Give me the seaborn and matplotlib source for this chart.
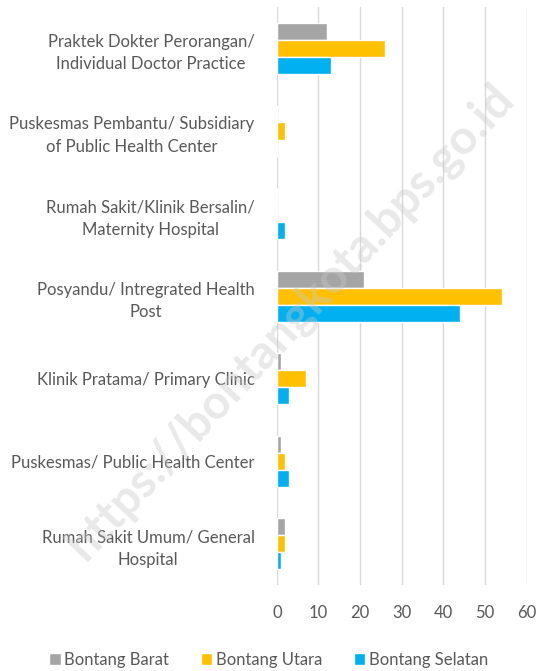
import matplotlib
matplotlib.use("Agg")
import matplotlib.pyplot as plt
import seaborn as sns
import pandas as pd

categories = [
    "Praktek Dokter Perorangan/\nIndividual Doctor Practice",
    "Puskesmas Pembantu/ Subsidiary\nof Public Health Center",
    "Rumah Sakit/Klinik Bersalin/\nMaternity Hospital",
    "Posyandu/ Intregrated Health\nPost",
    "Klinik Pratama/ Primary Clinic",
    "Puskesmas/ Public Health Center",
    "Rumah Sakit Umum/ General\nHospital",
]
series_names = ["Bontang Barat", "Bontang Utara", "Bontang Selatan"]
bontang_barat = [12, 0, 0, 21, 1, 1, 2]
bontang_utara = [26, 2, 0, 54, 7, 2, 2]
bontang_selatan = [13, 0, 2, 44, 3, 3, 1]
colors = ["#A5A5A5", "#FFC000", "#00B0F0"]
x_ticks = [0, 10, 20, 30, 40, 50, 60]

rows = []
for name, vals in zip(series_names, [bontang_barat, bontang_utara, bontang_selatan]):
    for c, v in zip(categories, vals):
        rows.append({"Kategori": c, "Nilai": v, "Wilayah": name})
df = pd.DataFrame(rows)

sns.set_theme(style="white")
plt.rcParams["font.family"] = ["Lato", "DejaVu Sans"]

fig = plt.figure(figsize=(5.37, 6.71), dpi=100)
ax = fig.add_axes([0.5155, 0.128, 0.4655, 0.8614])

sns.barplot(data=df, y="Kategori", x="Nilai", hue="Wilayah", order=categories,
            hue_order=series_names, palette=colors, orient="h", width=0.62,
            saturation=1, ax=ax, legend=True)

ax.set_xlim(0, 60)
ax.set_xticks(x_ticks)
ax.set_xlabel("")
ax.set_ylabel("")
ax.grid(axis="x", color="#D9D9D9", linewidth=1)
ax.set_axisbelow(True)
for s in ax.spines.values():
    s.set_visible(False)
ax.tick_params(axis="both", length=0, colors="#595959", labelsize=12)
ax.tick_params(axis="y", pad=16)
ax.tick_params(axis="x", pad=14)
for lab in ax.get_yticklabels():
    lab.set_multialignment("center")
    lab.set_linespacing(1.5)

handles, labels = ax.get_legend_handles_labels()
ax.get_legend().remove()
leg = fig.legend(handles, labels, loc="lower center", bbox_to_anchor=(0.5, -0.018),
                 ncol=3, frameon=False, fontsize=12, handlelength=0.7,
                 handleheight=0.7, handletextpad=0.2, columnspacing=1.9)
for t in leg.get_texts():
    t.set_color("#595959")

fig.text(0.54, 0.52, "https://bontangkota.bps.go.id", rotation=47, fontsize=34,
         fontweight="bold", color="#C8C8C8", alpha=0.4, ha="center", va="center",
         zorder=10)

fig.savefig("out.png", dpi=100)
